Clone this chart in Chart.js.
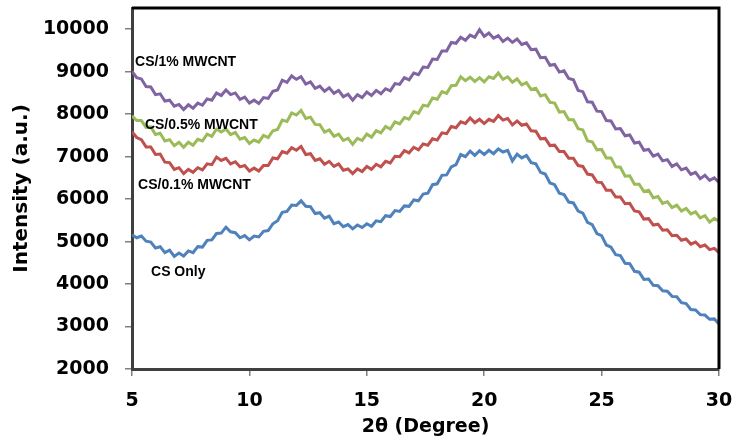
<!DOCTYPE html>
<html>
<head>
<meta charset="utf-8">
<script src="https://cdn.jsdelivr.net/npm/chart.js@4.4.0/dist/chart.umd.min.js"></script>
<style>
  body { margin: 0; background: #fff; }
  #wrap { width: 737px; height: 440px; }
</style>
</head>
<body>
<div id="wrap"><canvas id="xrd" width="737" height="440"></canvas></div>
<script>
// 2θ sampling grid, 5 to 30 degrees in 0.2 steps
const twoTheta = Array.from({ length: 126 }, (_, i) => +(5 + i * 0.2).toFixed(1));

const seriesNames = ["CS Only", "CS/0.1% MWCNT", "CS/0.5% MWCNT", "CS/1% MWCNT"];

const xTicks = [5, 10, 15, 20, 25, 30];
const yTicks = [2000, 3000, 4000, 5000, 6000, 7000, 8000, 9000, 10000];

// intensity (a.u.)
const csOnly = [
  5160, 5090, 5130, 5010, 4990, 4850, 4880, 4740, 4800, 4650,
  4730, 4660, 4780, 4740, 4880, 4870, 5030, 5040, 5190, 5200,
  5340, 5230, 5210, 5090, 5140, 5040, 5130, 5110, 5240, 5260,
  5420, 5490, 5690, 5710, 5860, 5850, 5960, 5830, 5820, 5660,
  5680, 5550, 5600, 5420, 5460, 5350, 5400, 5300, 5390, 5330,
  5420, 5360, 5490, 5470, 5610, 5590, 5730, 5710, 5840, 5830,
  5980, 5960, 6120, 6140, 6340, 6360, 6560, 6570, 6760, 6810,
  7050, 7000, 7130, 7030, 7140, 7050, 7150, 7070, 7180, 7110,
  7150, 6900, 7060, 6970, 7030, 6860, 6830, 6630, 6590, 6380,
  6340, 6140, 6110, 5930, 5910, 5720, 5670, 5450, 5400, 5190,
  5140, 4920, 4870, 4690, 4670, 4490, 4480, 4300, 4280, 4110,
  4120, 3970, 3960, 3840, 3830, 3710, 3700, 3560, 3540, 3400,
  3390, 3280, 3270, 3170, 3180, 3060
];
const cs01 = [
  7590, 7450, 7400, 7230, 7230, 7050, 7060, 6870, 6860, 6700,
  6740, 6600, 6700, 6630, 6740, 6690, 6830, 6810, 6990, 6910,
  6960, 6830, 6880, 6760, 6790, 6660, 6730, 6660, 6790, 6790,
  6970, 6950, 7120, 7080, 7210, 7150, 7240, 7050, 7070, 6910,
  6950, 6820, 6890, 6770, 6830, 6680, 6710, 6600, 6710, 6650,
  6770, 6700, 6820, 6760, 6890, 6850, 7010, 7000, 7140, 7090,
  7220, 7160, 7300, 7270, 7420, 7390, 7560, 7540, 7710, 7680,
  7820, 7780, 7910, 7800, 7880, 7780, 7880, 7830, 7970, 7860,
  7900, 7750, 7840, 7740, 7770, 7610, 7600, 7420, 7430, 7260,
  7270, 7120, 7120, 6960, 6960, 6790, 6770, 6590, 6570, 6400,
  6390, 6210, 6210, 6050, 6050, 5890, 5900, 5720, 5700, 5530,
  5540, 5390, 5410, 5270, 5280, 5140, 5150, 5030, 5060, 4940,
  4990, 4880, 4920, 4810, 4840, 4740
];
const cs05 = [
  7960, 7850, 7850, 7690, 7700, 7520, 7550, 7370, 7400, 7260,
  7340, 7220, 7340, 7270, 7410, 7370, 7530, 7480, 7650, 7580,
  7650, 7520, 7570, 7410, 7450, 7310, 7390, 7340, 7500, 7450,
  7610, 7640, 7860, 7830, 8030, 7980, 8090, 7900, 7930, 7760,
  7750, 7580, 7630, 7480, 7530, 7380, 7430, 7290, 7430, 7380,
  7530, 7460, 7610, 7560, 7710, 7650, 7820, 7770, 7920, 7880,
  8060, 8020, 8210, 8190, 8380, 8350, 8530, 8490, 8670, 8680,
  8880, 8790, 8870, 8770, 8860, 8760, 8880, 8840, 8970, 8820,
  8880, 8750, 8830, 8690, 8740, 8580, 8610, 8430, 8460, 8280,
  8260, 8050, 8060, 7870, 7870, 7660, 7630, 7370, 7350, 7160,
  7170, 6970, 6970, 6760, 6750, 6540, 6550, 6350, 6350, 6180,
  6210, 6030, 6060, 5900, 5940, 5800, 5860, 5720, 5780, 5650,
  5700, 5560, 5610, 5460, 5550, 5480
];
const cs1 = [
  9010, 8860, 8830, 8650, 8640, 8460, 8480, 8310, 8330, 8190,
  8230, 8110, 8220, 8140, 8260, 8210, 8360, 8330, 8500, 8440,
  8570, 8460, 8500, 8350, 8400, 8260, 8330, 8250, 8390, 8370,
  8540, 8570, 8800, 8750, 8900, 8820, 8880, 8710, 8760, 8610,
  8660, 8540, 8620, 8490, 8560, 8410, 8470, 8330, 8460, 8390,
  8520, 8440, 8560, 8480, 8600, 8550, 8720, 8700, 8860, 8810,
  8970, 8930, 9110, 9100, 9300, 9290, 9490, 9490, 9690, 9670,
  9810, 9740, 9860, 9810, 9990, 9830, 9910, 9790, 9850, 9710,
  9790, 9690, 9770, 9640, 9680, 9520, 9530, 9330, 9340, 9150,
  9170, 8990, 9020, 8840, 8810, 8560, 8530, 8290, 8280, 8070,
  8060, 7850, 7840, 7650, 7660, 7490, 7510, 7320, 7340, 7150,
  7170, 7010, 7060, 6900, 6930, 6770, 6830, 6690, 6730, 6580,
  6630, 6480, 6560, 6440, 6500, 6390
];

const lineColors = ["#4F81BD", "#C0504D", "#9BBB59", "#8064A2"];

// where each curve name sits, in data units (2θ, intensity)
const labelAnchors = [[5.81, 4282], [5.26, 6330], [5.55, 7741], [5.13, 9224]];

const allSeries = [csOnly, cs01, cs05, cs1];

// draws the curve names next to the curves
const curveLabels = {
  id: "curveLabels",
  afterDatasetsDraw(chart) {
    const { ctx, scales } = chart;
    ctx.save();
    ctx.font = "bold 14px 'Liberation Sans', Arial, sans-serif";
    ctx.fillStyle = "#000";
    ctx.textAlign = "left";
    ctx.textBaseline = "middle";
    seriesNames.forEach((name, i) => {
      const [ax, ay] = labelAnchors[i];
      ctx.fillText(name, scales.x.getPixelForValue(ax), scales.y.getPixelForValue(ay));
    });
    ctx.restore();
  }
};

// black top and right edges of the plot box
const boxEdges = {
  id: "boxEdges",
  afterDraw(chart) {
    const { ctx, chartArea: a } = chart;
    ctx.save();
    ctx.strokeStyle = "#000";
    ctx.lineWidth = 3;
    ctx.beginPath();
    ctx.moveTo(a.left, a.top);
    ctx.lineTo(a.right, a.top);
    ctx.lineTo(a.right, a.bottom);
    ctx.stroke();
    ctx.restore();
  }
};

const tickFont = { family: "'DejaVu Sans'", weight: "bold", size: 19 };

new Chart(document.getElementById("xrd"), {
  type: "line",
  plugins: [curveLabels, boxEdges],
  data: {
    datasets: allSeries.map((vals, i) => ({
      label: seriesNames[i],
      data: twoTheta.map((x, j) => ({ x: x, y: vals[j] })),
      borderColor: lineColors[i],
      borderWidth: 3,
      pointRadius: 0,
      tension: 0,
      fill: false
    }))
  },
  options: {
    responsive: false,
    animation: false,
    layout: { padding: { top: 8, right: 18, left: 0, bottom: 0 } },
    plugins: { legend: { display: false }, tooltip: { enabled: false } },
    scales: {
      x: {
        type: "linear",
        min: 5,
        max: 30,
        afterBuildTicks: (s) => { s.ticks = xTicks.map((v) => ({ value: v })); },
        afterFit: (s) => { s.height = 71; s.paddingLeft = 0; s.paddingRight = 0; },
        border: { display: true, color: "#404040", width: 3 },
        grid: { drawOnChartArea: false, drawTicks: true, tickLength: 7, color: "#808080", lineWidth: 1.5 },
        ticks: { padding: 14, color: "#000", font: tickFont },
        title: {
          display: true,
          text: "2θ (Degree)",
          color: "#000",
          padding: { top: 0, bottom: 2 },
          font: tickFont
        }
      },
      y: {
        min: 2000,
        max: 10500,
        afterBuildTicks: (s) => { s.ticks = yTicks.map((v) => ({ value: v })); },
        afterFit: (s) => { s.width = 132; s.paddingTop = 0; s.paddingBottom = 0; },
        border: { display: true, color: "#404040", width: 3 },
        grid: { drawOnChartArea: false, drawTicks: true, tickLength: 7, color: "#808080", lineWidth: 1.5 },
        ticks: {
          padding: 16,
          color: "#000",
          font: tickFont,
          callback: (v) => String(v)
        },
        title: {
          display: true,
          text: "Intensity (a.u.)",
          color: "#000",
          padding: { top: 10, bottom: 0 },
          font: { family: "'DejaVu Sans'", weight: "bold", size: 20 }
        }
      }
    }
  }
});
</script>
</body>
</html>
